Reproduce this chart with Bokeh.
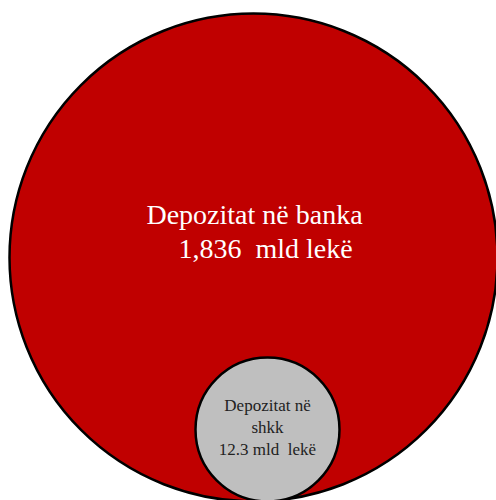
from bokeh.plotting import figure
from bokeh.models import Range1d, ColumnDataSource
from bokeh.core.properties import value
from bokeh.embed import file_html
from bokeh.resources import INLINE

# data
categories = ["Depozitat në banka", "Depozitat në shkk"]
amounts = [1836, 12.3]
unit = "mld lekë"

# layout / style (pixel-like data space)
W, H = 496, 500
cx = [253, 267]
cy = [257, 429]
radii = [244, 72]
fills = ["#C00000", "#BFBFBF"]

p = figure(width=W, height=H, output_backend="svg", toolbar_location=None,
           x_range=Range1d(0, W), y_range=Range1d(H, 0),
           min_border=0, outline_line_color=None)
p.axis.visible = False
p.grid.visible = False
p.background_fill_color = "white"
p.border_fill_color = "white"

src = ColumnDataSource(dict(x=cx, y=cy, r=radii, fill=fills))
p.circle(x="x", y="y", radius="r", fill_color="fill", line_color="black",
         line_width=2.5, source=src)

font = value("Liberation Serif")
nb = "\u00a0"
# big circle labels
big_lines = [categories[0], f"{amounts[0]:,}{nb} {unit}"]
p.text(x=[254, 265], y=[214, 248], text=big_lines, text_font=font,
       text_font_size="28px", text_color="white", text_align="center",
       text_baseline="alphabetic")

# small circle labels
parts = categories[1].rsplit(" ", 1)
small_lines = [parts[0], parts[1], f"{amounts[1]} mld{nb} lekë"]
p.text(x=[267, 267, 267], y=[405, 427, 449], text=small_lines, text_font=font,
       text_font_size="17px", text_color="#222222", text_align="center",
       text_baseline="alphabetic")

open("out.html", "w").write(file_html(p, INLINE))
